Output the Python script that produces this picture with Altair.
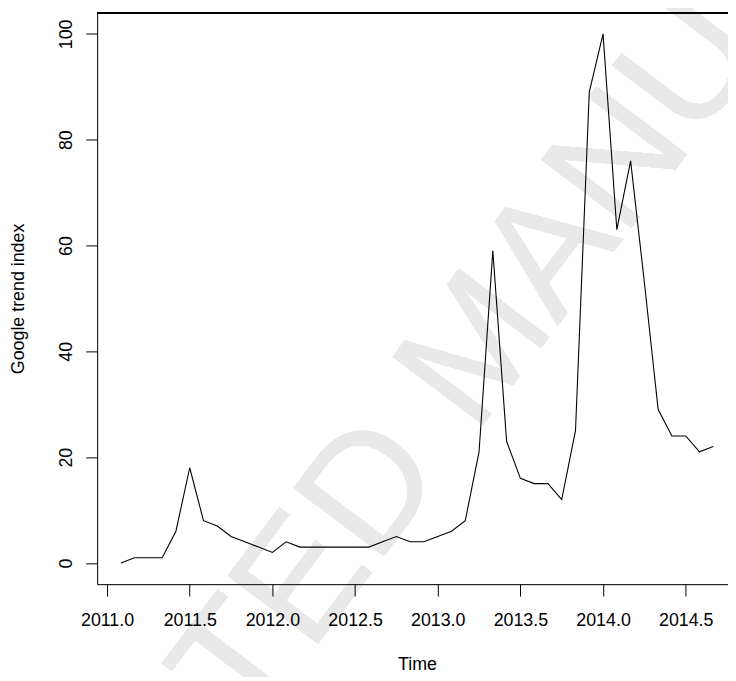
import altair as alt
import pandas as pd

# Monthly Google trend index, ts(start = c(2011, 2), frequency = 12)
start_year = 2011
start_month = 2
trend_index = [
    0, 1, 1, 1, 6, 18, 8, 7, 5, 4, 3,            # 2011 Feb-Dec
    2, 4, 3, 3, 3, 3, 3, 3, 4, 5, 4, 4,          # 2012
    5, 6, 8, 21, 59, 23, 16, 15, 15, 12, 25, 89, # 2013
    100, 63, 76, 53, 29, 24, 24, 21, 22,         # 2014 Jan-Sep
]
x_ticks = [2011.0, 2011.5, 2012.0, 2012.5, 2013.0, 2013.5, 2014.0, 2014.5]
y_ticks = [0, 20, 40, 60, 80, 100]
x_title = "Time"
y_title = "Google trend index"
watermark = "ACCEPTED MANUSCRIPT"

time = [start_year + (start_month - 1 + i) / 12 for i in range(len(trend_index))]
df = pd.DataFrame({"time": time, "value": trend_index})

W, H = 637, 577
px_per_year = 166.94
x_min = 2010.94
x_max = x_min + W / px_per_year
FONT = "Liberation Sans"

x_enc = alt.X(
    "time:Q",
    scale=alt.Scale(domain=[x_min, x_max], nice=False, zero=False),
    axis=alt.Axis(
        values=x_ticks, format=".1f", title=x_title, zindex=1,
        tickSize=12, labelPadding=30, labelBaseline="alphabetic",
        labelFontSize=18, labelFont=FONT, labelColor="black",
        titleFontSize=18, titleFont=FONT, titleFontWeight="normal", titleColor="black",
        titleX=323, titleY=86, titleBaseline="alphabetic", titleAlign="center",
        domainColor="black", tickColor="black", grid=False, labelFlush=False,
        labelOverlap=False,
    ),
)
y_enc = alt.Y(
    "value:Q",
    scale=alt.Scale(domain=[-4, 104], nice=False, zero=False),
    axis=alt.Axis(
        values=y_ticks, title=y_title, zindex=1,
        tickSize=11.5, labelPadding=14.5, labelAngle=270,
        labelAlign="center", labelBaseline="alphabetic",
        labelFontSize=18, labelFont=FONT, labelColor="black",
        titleFontSize=18, titleFont=FONT, titleFontWeight="normal", titleColor="black",
        titleAngle=270, titleX=-74, titleY=H / 2, titleBaseline="alphabetic",
        titleAlign="center",
        domainColor="black", tickColor="black", grid=False, labelFlush=False,
        labelOverlap=False,
    ),
)

wm = alt.Chart(df).mark_text(
    font=FONT, fontSize=166, color="#e9e9e9", angle=307,
    align="center", baseline="middle",
).encode(
    x=alt.value(386), y=alt.value(338), text=alt.value(watermark)
)

line = alt.Chart(df).mark_line(color="black", strokeWidth=1.1).encode(x=x_enc, y=y_enc)

top_border = alt.Chart(df).mark_rule(color="black", strokeWidth=1).encode(
    x=alt.value(0), x2=alt.value(W), y=alt.value(0)
)

chart = alt.layer(wm, line, top_border).properties(
    width=W, height=H,
    padding={"left": 90, "top": 1.5, "right": 0, "bottom": 90},
    autosize=alt.AutoSizeParams(type="none"),
).configure_view(stroke=None).configure(background="white")

chart.save("out.html", embed_options={"renderer": "svg", "actions": False})
